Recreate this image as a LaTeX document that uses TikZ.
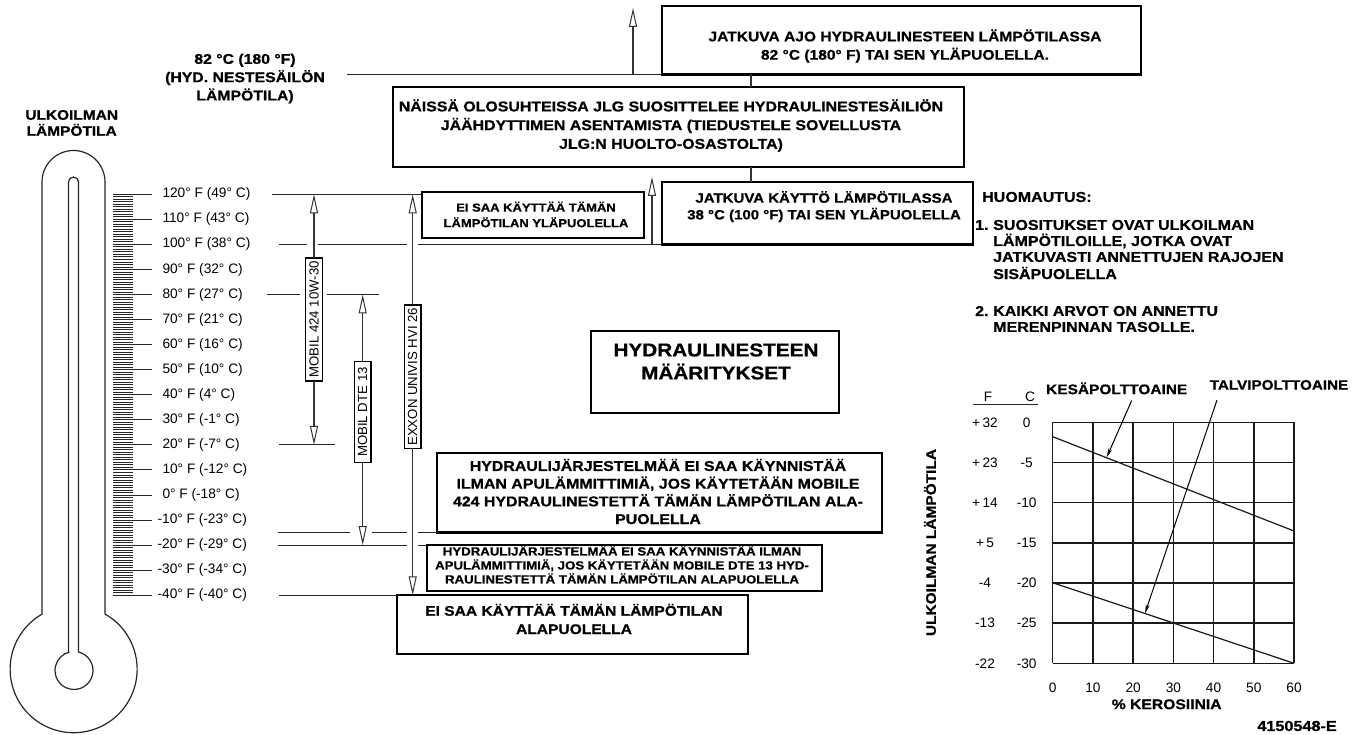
\documentclass[tikz,border=0pt]{standalone}
\usepackage{fontspec}
\setmainfont{Liberation Sans}
\newfontfamily\bw{Liberation Sans}[FakeStretch=1.12, FakeBold=0.8]
\usetikzlibrary{arrows.meta}
\newcommand\myB[2]{\bw\bfseries\fontsize{#1}{#2}\selectfont}
\newcommand\myR[2]{\fontsize{#1}{#2}\selectfont}
\begin{document}
\begin{tikzpicture}[x=1pt,y=1pt,
 tbox/.style={draw, line width=2.3pt, inner sep=0pt, outer sep=0pt, anchor=north west},
 lvl/.style={line width=1pt, draw=black!85},
 vln/.style={line width=1.2pt, draw=black!80},
 oarr/.style={-{Triangle[open, length=19pt, width=8pt, line width=1pt]}},
 lab/.style={draw, line width=1.2pt, rotate=90, inner sep=0pt, outer sep=0pt, minimum height=16.6pt, fill=white, font=\myR{13.2}{14}},
 btx/.style={align=center, inner sep=0pt},
 scl/.style={font=\myR{13.7}{15}, anchor=west, inner sep=0pt},
 grd/.style={line width=1.5pt, draw=black!90},
 dat/.style={line width=1.2pt, draw=black!90},
 sarr/.style={line width=1pt, -{Stealth[length=9pt, width=4pt]}},
 chl/.style={font=\myR{13.7}{15}, inner sep=0pt},
 nt/.style={anchor=west, inner sep=0pt, font=\myB{14.3}{16}},
 thermo/.style={line width=1.2pt, draw=black!85}
]
\useasboundingbox (0,0) rectangle (1361,-735);

% ---------- thermometer ----------
\draw[thermo] (42,-614) -- (42,-182) arc[start angle=180, end angle=0, radius=31.5]
  -- (105,-614) arc[start angle=60.4, end angle=-240.4, radius=63.5];
\draw[thermo] (68.5,-652) -- (68.5,-182) arc[start angle=180, end angle=0, radius=5]
  -- (78.5,-652) arc[start angle=76.3, end angle=-256.3, radius=19];
\foreach \f in {-39,...,119}{
  \pgfmathtruncatemacro\r{mod(\f+40,10)}
  \ifnum\r=0\relax\else
    \draw[line width=0.9pt, black!85] (113,{-(194.3+(120-\f)*2.506)}) -- (133,{-(194.3+(120-\f)*2.506)});
  \fi
}
\foreach \f/\c in {120/49,110/43,100/38,90/32,80/27,70/21,60/16,50/10,40/4,30/-1,20/-7,10/-12,0/-18,-10/-23,-20/-29,-30/-34,-40/-40}{
  \pgfmathsetmacro\yy{-(194.3+(120-\f)*2.506)}
  \pgfmathsetmacro\xx{\f<0 ? 157.4 : 162.3}
  \draw[line width=1pt, black!85] (113,\yy) -- (152,\yy);
  \node[scl] at (\xx,\yy) {\f° F (\c° C)};
}
\node[btx, font=\myB{13.8}{16}] (ulk) at (71.7,-123) {ULKOILMAN\\LÄMPÖTILA};

% ---------- level coordinates ----------
\coordinate (L120) at (272,-194.3);
\coordinate (L100) at (278.7,-244.4);
\coordinate (L80) at (267,-294.5);
\coordinate (L20) at (279,-444.9);
\coordinate (Lm15) at (278,-532.6);
\coordinate (Lm20) at (278,-545.1);
\coordinate (Lm40) at (279,-595.3);
\coordinate (L82) at (347,-74.5);
\coordinate (cx) at (751,0);

% ---------- boxes ----------
\node[tbox, minimum width=479pt, minimum height=68.5pt] (topbox) at (662,-6) {};
\node[btx, font=\myB{13.9}{18.3}] at (905,-46) {JATKUVA AJO HYDRAULINESTEEN LÄMPÖTILASSA\\82 °C (180° F) TAI SEN YLÄPUOLELLA.};

\node[tbox, minimum width=571pt, minimum height=80pt] (naissa) at (393,-87) {};
\node[btx, font=\myB{14.2}{18.7}] at (671,-125.5) {NÄISSÄ OLOSUHTEISSA JLG SUOSITTELEE HYDRAULINESTESÄILIÖN\\JÄÄHDYTTIMEN ASENTAMISTA (TIEDUSTELE SOVELLUSTA\\JLG:N HUOLTO-OSASTOLTA)};

\node[tbox, minimum width=311pt, minimum height=62.4pt] (kaytto) at (662,-182) {};
\node[btx, font=\myB{13.4}{16.7}] at (824,-206.7) {JATKUVA KÄYTTÖ LÄMPÖTILASSA\\38 °C (100 °F) TAI SEN YLÄPUOLELLA};

\node[tbox, minimum width=222pt, minimum height=46pt] (eisaaup) at (422,-192) {};
\node[btx, font=\myB{11.6}{15.6}] at (536,-214.5) {EI SAA KÄYTTÄÄ TÄMÄN\\LÄMPÖTILAN YLÄPUOLELLA};

\node[tbox, minimum width=248pt, minimum height=82pt] (maar) at (591,-331) {};
\node[btx, font=\myB{18.5}{23}] at (716,-361.5) {HYDRAULINESTEEN\\MÄÄRITYKSET};

\node[tbox, minimum width=445pt, minimum height=79.6pt] (box424) at (437,-453) {};
\node[btx, font=\myB{14.2}{17.7}] at (658,-491.5) {HYDRAULIJÄRJESTELMÄÄ EI SAA KÄYNNISTÄÄ\\ILMAN APULÄMMITTIMIÄ, JOS KÄYTETÄÄN MOBILE\\424 HYDRAULINESTETTÄ TÄMÄN LÄMPÖTILAN ALA-\\PUOLELLA};

\node[tbox, minimum width=395pt, minimum height=45.6pt] (boxdte) at (427,-545.1) {};
\node[btx, font=\myB{11.8}{14}] at (622,-564.5) {HYDRAULIJÄRJESTELMÄÄ EI SAA KÄYNNISTÄÄ ILMAN\\APULÄMMITTIMIÄ, JOS KÄYTETÄÄN MOBILE DTE 13 HYD-\\RAULINESTETTÄ TÄMÄN LÄMPÖTILAN ALAPUOLELLA};

\node[tbox, minimum width=351pt, minimum height=58.7pt] (boxalap) at (397,-595.3) {};
\node[btx, font=\myB{13.9}{18.3}] at (574,-619) {EI SAA KÄYTTÄÄ TÄMÄN LÄMPÖTILAN\\ALAPUOLELLA};

\node[btx, font=\myB{14.1}{18.3}] (hydlab) at (245,-78.5) {82 °C (180 °F)\\(HYD. NESTESÄILÖN\\LÄMPÖTILA)};

% ---------- connectors between boxes ----------
\draw[vln] (topbox.south -| cx) -- (naissa.north -| cx);
\draw[vln] (naissa.south -| cx) -- (kaytto.north -| cx);
\draw[lvl] (L82) -- (topbox.south west);
\draw[vln, oarr] (L82 -| 633,0) -- (633,-8);
\draw[vln, oarr] (kaytto.south west -| 652,0) -- (652,-177);

% ---------- level lines ----------
\draw[lvl] (L120) -- (eisaaup.west |- L120);
\draw[lvl] (L100) -- (306.7,-244.4);
\draw[lvl] (318,-244.4) -- (406.7,-244.4);
\draw[lvl] (418,-244.4) -- (kaytto.south west);
\draw[lvl] (L80) -- (300,-294.5);
\draw[lvl] (327,-294.5) -- (379,-294.5);
\draw[lvl] (L20) -- (335,-444.9);
\draw[lvl] (Lm15) -- (350,-532.6);
\draw[lvl] (372,-532.6) -- (407,-532.6);
\draw[lvl] (418,-532.6) -- (box424.south west);
\draw[lvl] (Lm20) -- (407,-545.1);
\draw[lvl] (418,-545.1) -- (boxdte.north west);
\draw[lvl] (Lm40) -- (boxalap.north west);

% ---------- oil ranges ----------
\node[lab, minimum width=123pt] (lab424) at (314,-319.5) {MOBIL 424 10W-30};
\node[lab, minimum width=100.6pt] (labdte) at (362.7,-412) {MOBIL DTE 13};
\node[lab, minimum width=143.3pt] (labexx) at (412.7,-376.7) {EXXON UNIVIS HVI 26};
\draw[vln, oarr] (lab424.east) -- (lab424.east |- L120);
\draw[vln, oarr] (lab424.west) -- (lab424.west |- L20);
\draw[vln, oarr] (labdte.east) -- (labdte.east |- L80);
\draw[vln, oarr] (labdte.west) -- (labdte.west |- Lm20);
\draw[vln, oarr] (labexx.east) -- (labexx.east |- L120);
\draw[vln, oarr] (labexx.west) -- (labexx.west |- Lm40);

% ---------- notes ----------
\node[nt] (huom) at (982,-197) {HUOMAUTUS:};
\node[nt] (n1) at (975,-225) {1.};
\node[nt] (n1a) at (993,-225) {SUOSITUKSET OVAT ULKOILMAN};
\node[nt] (n1b) at (993,-241) {LÄMPÖTILOILLE, JOTKA OVAT};
\node[nt] (n1c) at (993,-257) {JATKUVASTI ANNETTUJEN RAJOJEN};
\node[nt] (n1d) at (993,-273) {SISÄPUOLELLA};
\node[nt] (n2) at (975,-311) {2.};
\node[nt] (n2a) at (993,-311) {KAIKKI ARVOT ON ANNETTU};
\node[nt] (n2b) at (993,-327) {MERENPINNAN TASOLLE.};

% ---------- chart ----------
\foreach \i in {0,...,6}{
  \draw[grd] ({1052.7+\i*40.22},-422.3) -- ({1052.7+\i*40.22},-663.3);
  \draw[grd] (1052.7,{-422.3-\i*40.17}) -- (1294,{-422.3-\i*40.17});
}
\draw[dat] (1052.7,-436.7) -- (1294,-531);
\draw[dat] (1052.7,-582.7) -- (1294,-663.3);
\foreach \i/\fa/\ca in {0/{+\,32}/0,1/{+\,23}/-5,2/{+\,14}/-10,3/{+\,5}/-15,4/-4/-20,5/-13/-25,6/-22/-30}{
  \node[chl] at (985,{-422.3-\i*40.17}) {\fa};
  \node[chl] at (1026.7,{-422.3-\i*40.17}) {\ca};
}
\foreach \i/\v in {0/0,1/10,2/20,3/30,4/40,5/50,6/60}{
  \node[chl] at ({1052.7+\i*40.22},-687.3) {\v};
}
\node[chl] (hF) at (988,-396.7) {F};
\node[chl] (hC) at (1030,-396.7) {C};
\draw[line width=1pt, black!85] (973,-405) -- (1038,-405);
\node[inner sep=0pt, font=\myB{14}{16}] (kero) at (1166.7,-704.3) {\% KEROSIINIA};
\node[inner sep=0pt, rotate=90, font=\myB{13.8}{16}] (ylab) at (930,-542.5) {ULKOILMAN LÄMPÖTILA};
\node[inner sep=0pt, font=\myB{13.8}{16}] (kes) at (1116.7,-388.3) {KESÄPOLTTOAINE};
\node[inner sep=0pt, font=\myB{13.6}{16}] (talvi) at (1279,-385) {TALVIPOLTTOAINE};
\coordinate (kesT) at (1106.7,-457.3);
\coordinate (talT) at (1145,-613.3);
\draw[sarr] ([shift={(15pt,-6pt)}]kes.south) -- (kesT);
\draw[sarr] ([shift={(-62pt,-10pt)}]talvi.south) -- (talT);
\node[anchor=east, inner sep=0pt, font=\myB{14.5}{16}] (code) at (1337,-726) {4150548-E};
\end{tikzpicture}
\end{document}
